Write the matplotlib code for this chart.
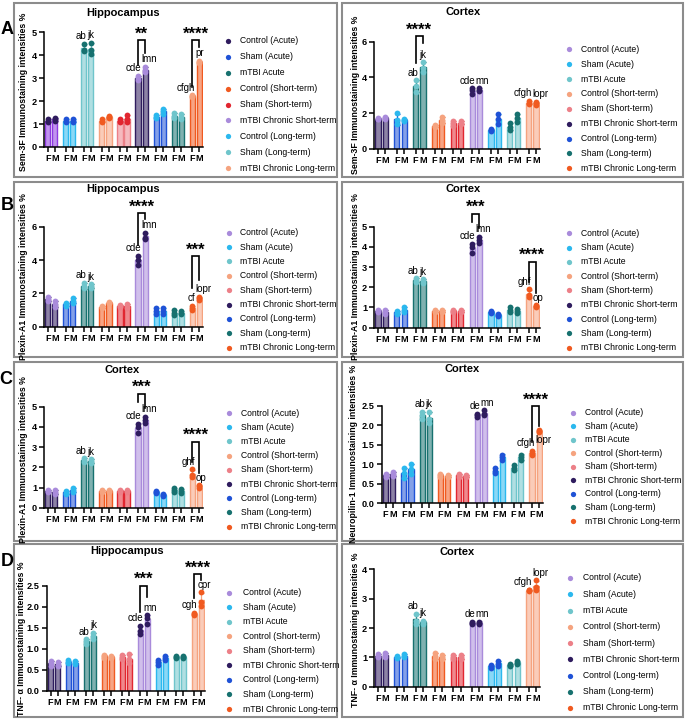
import numpy as np
import matplotlib
matplotlib.use('Agg')
import matplotlib.pyplot as plt
from matplotlib.lines import Line2D
from matplotlib.patches import Rectangle
from matplotlib import colors as mcolors

plt.rcParams['font.family'] = ['Liberation Sans', 'DejaVu Sans']

# ---------------- data ----------------
groups = ['Control (Acute)', 'Sham (Acute)', 'mTBI Acute', 'Control (Short-term)',
          'Sham (Short-term)', 'mTBI Chronic Short-term', 'Control (Long-term)',
          'Sham (Long-term)', 'mTBI Chronic Long-term']
sexes = ['F', 'M']

# Sem-3F, Hippocampus (3 animals per bar)
sem3f_hip_F = [[1.10, 1.15, 1.20], [1.10, 1.15, 1.20], [4.20, 4.25, 4.50], [1.10, 1.15, 1.20],
               [1.10, 1.15, 1.20], [2.90, 3.00, 3.10], [1.25, 1.30, 1.40], [1.25, 1.35, 1.50],
               [2.18, 2.22, 2.25]]
sem3f_hip_M = [[1.15, 1.20, 1.25], [1.10, 1.15, 1.20], [4.05, 4.25, 4.55], [1.28, 1.32, 1.36],
               [1.10, 1.20, 1.40], [3.25, 3.35, 3.50], [1.45, 1.55, 1.65], [1.20, 1.30, 1.45],
               [3.65, 3.70, 3.75]]
sem3f_hip_letters = ['ab', 'jk', 'cde', 'lmn', 'cfgh', 'pr']
sem3f_hip_stars = ['**', '****']

# Sem-3F, Cortex
sem3f_ctx_F = [[1.65, 1.70, 1.75], [1.40, 1.60, 2.00], [3.20, 3.50, 3.85], [1.25, 1.30, 1.35],
               [1.30, 1.45, 1.55], [3.10, 3.30, 3.40], [1.00, 1.05, 1.10], [1.05, 1.25, 1.45],
               [2.50, 2.60, 2.70]]
sem3f_ctx_M = [[1.70, 1.75, 1.80], [1.55, 1.60, 1.65], [4.30, 4.55, 4.85], [1.45, 1.60, 1.80],
               [1.40, 1.45, 1.55], [3.25, 3.30, 3.40], [1.40, 1.65, 1.95], [1.50, 1.75, 1.95],
               [2.45, 2.55, 2.65]]
sem3f_ctx_letters = ['ab', 'jk', 'cde', 'mn', 'cfgh', 'lopr']
sem3f_ctx_stars = ['****']

# Plexin-A1, Hippocampus
plexin_hip_F = [[1.55, 1.65, 1.80], [1.25, 1.35, 1.45], [2.30, 2.45, 2.65], [1.15, 1.20, 1.25],
                [1.20, 1.25, 1.30], [3.70, 4.00, 4.25], [0.75, 0.95, 1.10], [0.70, 0.85, 1.00],
                [1.00, 1.15, 1.25]]
plexin_hip_M = [[1.20, 1.35, 1.55], [1.45, 1.55, 1.70], [2.35, 2.45, 2.55], [1.40, 1.45, 1.50],
                [1.10, 1.25, 1.35], [5.25, 5.35, 5.65], [0.75, 0.95, 1.10], [0.75, 0.85, 0.95],
                [1.60, 1.70, 1.80]]
plexin_hip_letters = ['ab', 'jk', 'cde', 'lmn', 'cf', 'lopr']
plexin_hip_stars = ['****', '***']

# Plexin-A1, Cortex (shown in B and again in C)
plexin_ctx_F = [[0.80, 0.85, 0.90], [0.70, 0.75, 0.85], [2.25, 2.35, 2.45], [0.80, 0.85, 0.90],
                [0.80, 0.85, 0.90], [3.70, 4.00, 4.15], [0.75, 0.80, 0.85], [0.80, 0.90, 1.00],
                [1.50, 1.60, 1.90]]
plexin_ctx_M = [[0.70, 0.80, 0.90], [0.80, 0.90, 1.00], [2.20, 2.30, 2.40], [0.80, 0.85, 0.90],
                [0.80, 0.85, 0.90], [4.20, 4.35, 4.50], [0.60, 0.65, 0.70], [0.75, 0.85, 0.95],
                [1.00, 1.05, 1.10]]
plexin_ctx_letters = ['ab', 'jk', 'cde', 'lmn', 'ghf', 'op']
plexin_ctx_stars = ['***', '****']

# Neuropilin-1, Cortex
nrp1_ctx_F = [[0.68, 0.72, 0.76], [0.65, 0.78, 0.90], [2.15, 2.25, 2.35], [0.68, 0.72, 0.75],
              [0.68, 0.72, 0.75], [2.20, 2.25, 2.30], [0.78, 0.82, 0.90], [0.85, 0.90, 0.98],
              [1.25, 1.30, 1.35]]
nrp1_ctx_M = [[0.70, 0.75, 0.80], [0.75, 0.88, 1.00], [2.05, 2.15, 2.35], [0.67, 0.70, 0.72],
              [0.67, 0.70, 0.72], [2.25, 2.30, 2.38], [1.10, 1.18, 1.25], [1.10, 1.18, 1.25],
              [1.82, 1.85, 1.88]]
nrp1_ctx_letters = ['ab', 'jk', 'de', 'mn', 'cfgh', 'lopr']
nrp1_ctx_stars = ['****']

# TNF-alpha, Hippocampus
tnf_hip_F = [[0.60, 0.65, 0.70], [0.65, 0.68, 0.72], [1.12, 1.18, 1.22], [0.78, 0.82, 0.86],
             [0.76, 0.80, 0.85], [1.35, 1.42, 1.55], [0.62, 0.68, 0.74], [0.78, 0.80, 0.83],
             [1.80, 1.82, 1.85]]
tnf_hip_M = [[0.58, 0.62, 0.68], [0.64, 0.67, 0.70], [1.22, 1.30, 1.38], [0.78, 0.80, 0.82],
             [0.65, 0.75, 0.88], [1.58, 1.72, 1.80], [0.74, 0.78, 0.82], [0.78, 0.80, 0.83],
             [2.02, 2.12, 2.35]]
tnf_hip_letters = ['ab', 'jk', 'cde', 'mn', 'cgh', 'cpr']
tnf_hip_stars = ['***', '****']

# TNF-alpha, Cortex
tnf_ctx_F = [[1.00, 1.05, 1.12], [0.98, 1.00, 1.03], [2.15, 2.25, 2.48], [0.95, 1.05, 1.15],
             [0.95, 1.00, 1.08], [2.12, 2.18, 2.22], [0.65, 0.70, 0.75], [0.72, 0.75, 0.78],
             [3.25, 3.28, 3.30]]
tnf_ctx_M = [[1.00, 1.08, 1.15], [1.00, 1.05, 1.12], [2.15, 2.20, 2.25], [0.95, 1.00, 1.08],
             [0.95, 1.00, 1.08], [2.12, 2.18, 2.22], [0.72, 0.78, 0.88], [0.78, 0.82, 0.88],
             [3.30, 3.40, 3.62]]
tnf_ctx_letters = ['ab', 'jk', 'de', 'mn', 'cfgh', 'lopr']
tnf_ctx_stars = []

# ---------------- styling ----------------
navy, blue, teal = '#2f1c5e', '#1f52d6', '#17716f'
orange, red = '#f05a20', '#e12630'
lpurple, cyan, lteal, peach, pink = '#a98bdb', '#2bb8ee', '#6fc5cb', '#f5a37f', '#ec8088'
violet = '#8d3ae0'

barsA = [violet, cyan, lteal, peach, pink, navy, blue, teal, orange]
dotsA = [navy, blue, teal, orange, red, lpurple, cyan, lteal, peach]
barsN = [navy, blue, teal, orange, red, lpurple, cyan, lteal, peach]
dotsN = [lpurple, cyan, lteal, peach, pink, navy, blue, teal, orange]

W, H = 685, 719
fig = plt.figure(figsize=(W / 100, H / 100), dpi=100)
fig.patch.set_facecolor('white')


def fx(x):
    return x / W


def fy(y):
    return 1 - y / H


K = 2.57
xF = np.arange(9) * K
xM = xF + 1


def tint(c, f=0.5):
    r = np.array(mcolors.to_rgb(c))
    return tuple(r + (1 - r) * f)


def draw_panel(cfg, dF, dM, letters, stars, bars_c, dots_c):
    L, R, y0, yt, tv, step = cfg['L'], cfg['R'], cfg['y0'], cfg['yt'], cfg['tv'], cfg['step']
    top = cfg['box'][1] + 6
    upp = tv / (y0 - yt)
    ax = fig.add_axes([fx(L), fy(y0), (R - L) / W, (y0 - top) / H])
    ax.set_xlim(-0.55, 8 * K + 1.55)
    ax.set_ylim(0, (y0 - top) * upp)
    ax.patch.set_alpha(0)
    for g in range(9):
        for x, d in ((xF[g], dF[g]), (xM[g], dM[g])):
            d = np.asarray(d)
            m, sd = d.mean(), d.std(ddof=1)
            ax.bar(x, m, width=0.72, color=tint(bars_c[g], 0.45), edgecolor=bars_c[g],
                   linewidth=1.0, zorder=2)
            ax.errorbar(x, m, yerr=sd, color=bars_c[g], capsize=1.8, lw=0.9,
                        capthick=0.9, zorder=3)
            ax.plot([x] * len(d), d, 'o', ms=4.2, color=dots_c[g], mec='none', zorder=4)
    # letters
    idx = [(2, 0), (2, 1), (5, 0), (5, 1), (8, 0), (8, 1)]
    for i, (txt, (g, s)) in enumerate(zip(letters, idx)):
        d = (dF if s == 0 else dM)[g]
        y = max(d) + 7.5 * upp
        if 'override' in cfg and i in cfg['override']:
            y = cfg['override'][i]
        if s == 0:
            ax.text(xF[g] + 0.4, y, txt, ha='right', va='center', fontsize=7, zorder=5)
        else:
            ax.text(xM[g] - 0.5, y, txt, ha='left', va='center', fontsize=7, zorder=5)
    # brackets
    for st, (g, lb, rb, tp) in zip(stars, cfg['brackets']):
        ax.plot([xF[g], xF[g], xM[g], xM[g]], [lb, tp, tp, rb], color='black', lw=1.2,
                solid_joinstyle='miter', zorder=5)
        ax.text((xF[g] + xM[g]) / 2, tp + 1.5 * upp, st, ha='center', va='baseline',
                fontsize=12, weight='bold', zorder=5)
    # axes styling
    ax.set_xticks(np.sort(np.concatenate([xF, xM])))
    ax.set_xticklabels(sexes * 9)
    ticks = np.arange(0, tv + step / 2, step)
    ax.set_yticks(ticks)
    if step < 1:
        ax.set_yticklabels(['%.1f' % t for t in ticks])
    else:
        ax.set_yticklabels(['%d' % t for t in ticks])
    ax.tick_params(axis='both', length=3.5, width=1.1, labelsize=6.6, pad=1.5)
    for lab in ax.get_xticklabels() + ax.get_yticklabels():
        lab.set_fontweight('bold')
    for sp in ('top', 'right'):
        ax.spines[sp].set_visible(False)
    ax.spines['left'].set_bounds(0, tv)
    ax.spines['left'].set_linewidth(1.1)
    ax.spines['bottom'].set_linewidth(1.1)
    # title and y label
    fig.text(fx(cfg['title'][0]), fy(cfg['title'][1]), cfg['title'][2], ha='center',
             va='center', fontsize=8, weight='bold')
    fig.text(fx(cfg['ylab'][0]), fy(cfg['ylab'][1]), cfg['ylab'][2], ha='center',
             va='center', rotation=90, fontsize=6.3, weight='bold')
    # legend
    dx, tx, ly0, ly1 = cfg['leg']
    for i, name in enumerate(groups):
        yy = ly0 + (ly1 - ly0) * i / 8
        fig.add_artist(Line2D([fx(dx)], [fy(yy)], marker='o', ms=3.8, color=dots_c[i],
                              mec='none', linestyle='none', transform=fig.transFigure))
        fig.text(fx(tx), fy(yy), name, ha='left', va='center', fontsize=6.2)
    # frame
    bx0, by0, bx1, by1 = cfg['box']
    fig.add_artist(Rectangle((fx(bx0), fy(by1)), (bx1 - bx0) / W, (by1 - by0) / H, fill=False,
                             edgecolor='#8c8c8c', lw=1.5, transform=fig.transFigure))


ylab_sem = 'Sem-3F Immunostaining intensities %'
ylab_plx = 'Plexin-A1 Immunostaining intensities %'
ylab_nrp = 'Neuropilin-1 Immunostaining intensities %'
ylab_tnf = 'TNF- α Immunostaining intensities %'

panels = [
    (dict(L=44, R=203, y0=147, yt=32.3, tv=5, step=1, box=(14, 3, 337, 177),
          title=(123, 13, 'Hippocampus'), ylab=(24, 92, ylab_sem), leg=(228, 240, 40.7, 168.3),
          brackets=[(5, 3.57, 4.08, 4.66), (8, 2.62, 4.37, 4.66)]),
     sem3f_hip_F, sem3f_hip_M, sem3f_hip_letters, sem3f_hip_stars, barsA, dotsA),
    (dict(L=374, R=540, y0=149, yt=41.7, tv=6, step=2, box=(342, 3, 683, 177),
          title=(463, 12, 'Cortex'), ylab=(355, 95, ylab_sem), leg=(569, 581, 49.3, 168.3),
          brackets=[(2, 4.8, 5.9, 6.3)]),
     sem3f_ctx_F, sem3f_ctx_M, sem3f_ctx_letters, sem3f_ctx_stars, barsN, dotsN),
    (dict(L=44, R=203, y0=326.7, yt=226.7, tv=6, step=2, box=(14, 182, 337, 357),
          title=(123, 189, 'Hippocampus'), ylab=(24, 277, ylab_plx), leg=(229, 240, 232.7, 347.7),
          brackets=[(5, 4.9, 6.45, 6.8), (8, 2.3, 2.8, 4.25)]),
     plexin_hip_F, plexin_hip_M, plexin_hip_letters, plexin_hip_stars, barsN, dotsN),
    (dict(L=374, R=540, y0=327.7, yt=226.7, tv=5, step=1, box=(342, 182, 683, 357),
          title=(463, 189, 'Cortex'), ylab=(355, 277, ylab_plx), leg=(569, 581, 233.3, 347.7),
          brackets=[(5, 5.25, 4.95, 5.65), (8, 2.28, 1.7, 3.27)]),
     plexin_ctx_F, plexin_ctx_M, plexin_ctx_letters, plexin_ctx_stars, barsN, dotsN),
    (dict(L=44, R=203, y0=507.7, yt=406.7, tv=5, step=1, box=(14, 362, 337, 541),
          title=(122, 370, 'Cortex'), ylab=(24, 460, ylab_plx), leg=(229, 241, 413, 526.7),
          brackets=[(5, 5.25, 4.95, 5.65), (8, 2.28, 1.7, 3.27)]),
     plexin_ctx_F, plexin_ctx_M, plexin_ctx_letters, plexin_ctx_stars, barsN, dotsN),
    (dict(L=381.7, R=543, y0=503.3, yt=405.7, tv=2.5, step=0.5, box=(342, 362, 683, 541),
          title=(462, 369, 'Cortex'), ylab=(354, 454, ylab_nrp), leg=(573, 585, 412.7, 521),
          brackets=[(8, 1.58, 1.97, 2.48)], override={5: 1.62}),
     nrp1_ctx_F, nrp1_ctx_M, nrp1_ctx_letters, nrp1_ctx_stars, barsN, dotsN),
    (dict(L=46.7, R=205, y0=690.7, yt=585.7, tv=2.5, step=0.5, box=(14, 544, 337, 717),
          title=(127, 551, 'Hippocampus'), ylab=(22, 639, ylab_tnf), leg=(229, 243, 592.7, 709),
          brackets=[(5, 1.88, 2.24, 2.5), (8, 2.2, 2.63, 2.77)]),
     tnf_hip_F, tnf_hip_M, tnf_hip_letters, tnf_hip_stars, barsN, dotsN),
    (dict(L=374, R=540, y0=686.7, yt=569.3, tv=4, step=1, box=(342, 544, 683, 717),
          title=(457, 552, 'Cortex'), ylab=(355, 630, ylab_tnf), leg=(570, 583, 578, 708),
          brackets=[]),
     tnf_ctx_F, tnf_ctx_M, tnf_ctx_letters, tnf_ctx_stars, barsN, dotsN),
]

for p in panels:
    draw_panel(*p)

for lt, (x, y) in zip('ABCD', [(7.5, 29), (7.5, 205), (6, 380), (7.5, 561)]):
    fig.text(fx(x), fy(y), lt, ha='center', va='center', fontsize=13, weight='bold')

fig.savefig('out.png', dpi=100, facecolor='white')
